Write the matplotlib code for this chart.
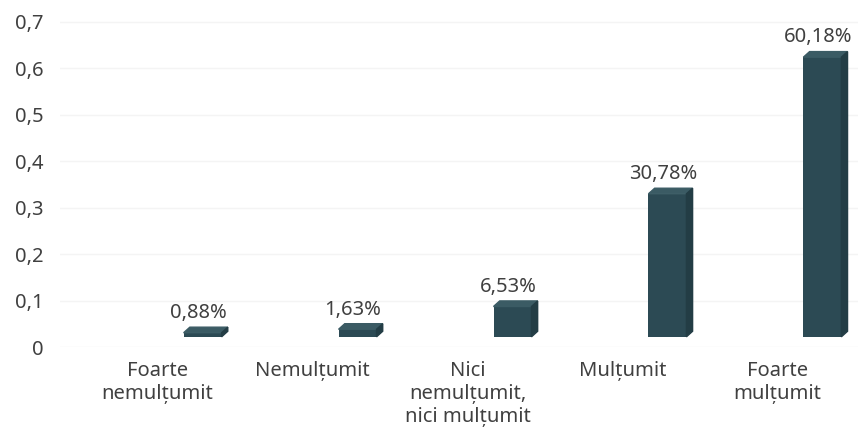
import matplotlib
matplotlib.use("Agg")
import matplotlib.pyplot as plt
from matplotlib.patches import Polygon

categories = ["Foarte\nnemulțumit", "Nemulțumit", "Nici\nnemulțumit,\nnici mulțumit",
              "Mulțumit", "Foarte\nmulțumit"]
values = [0.0088, 0.0163, 0.0653, 0.3078, 0.6018]
value_labels = ["0,88%", "1,63%", "6,53%", "30,78%", "60,18%"]
yticks = [0, 0.1, 0.2, 0.3, 0.4, 0.5, 0.6, 0.7]
ytick_labels = ["0", "0,1", "0,2", "0,3", "0,4", "0,5", "0,6", "0,7"]

plt.rcParams['font.family'] = ['Noto Sans', 'DejaVu Sans']

front = "#2c4a54"
top = "#3b5b64"
side = "#233d45"
txt = "#404040"

fig = plt.figure(figsize=(8.58, 4.41), dpi=100)
ax = fig.add_axes([0.07, 0.213, 0.93, 0.764])

# fake 3d look: lifted bar, top face and thin right side
lift = 0.022
dx, dy = 0.04, 0.012
width = 0.245
offset = 0.29
xs = [i + offset for i in range(len(values))]

for x, v, lab in zip(xs, values, value_labels):
    x0, x1 = x - width / 2, x + width / 2
    ax.bar(x, v, width=width, bottom=lift, color=front, zorder=3)
    ax.add_patch(Polygon([(x0, lift + v), (x0 + dx, lift + v + dy),
                          (x1 + dx, lift + v + dy), (x1, lift + v)],
                         closed=True, color=top, zorder=3))
    ax.add_patch(Polygon([(x1, lift), (x1 + dx, lift + dy),
                          (x1 + dx, lift + v + dy), (x1, lift + v)],
                         closed=True, color=side, zorder=3))
    ax.annotate(lab, (x - 0.03, lift + v + dy), xytext=(0, 3), textcoords="offset points",
                ha="center", va="bottom", fontsize=14.5, color=txt)

ax.set_xlim(-0.63, 4.52)
ax.set_ylim(0, 0.725)
ax.set_xticks(range(len(categories)))
ax.set_xticklabels(categories, fontsize=14.5, color=txt, linespacing=1.2)
ax.set_yticks(yticks)
ax.set_yticklabels(ytick_labels, fontsize=14.5, color=txt)
ax.tick_params(length=0, axis="y", pad=12)
ax.tick_params(length=0, axis="x", pad=10)
for s in ax.spines.values():
    s.set_visible(False)
ax.grid(axis="y", color="#f4f4f4", linewidth=1, zorder=0)

fig.savefig("out.png", dpi=100)
